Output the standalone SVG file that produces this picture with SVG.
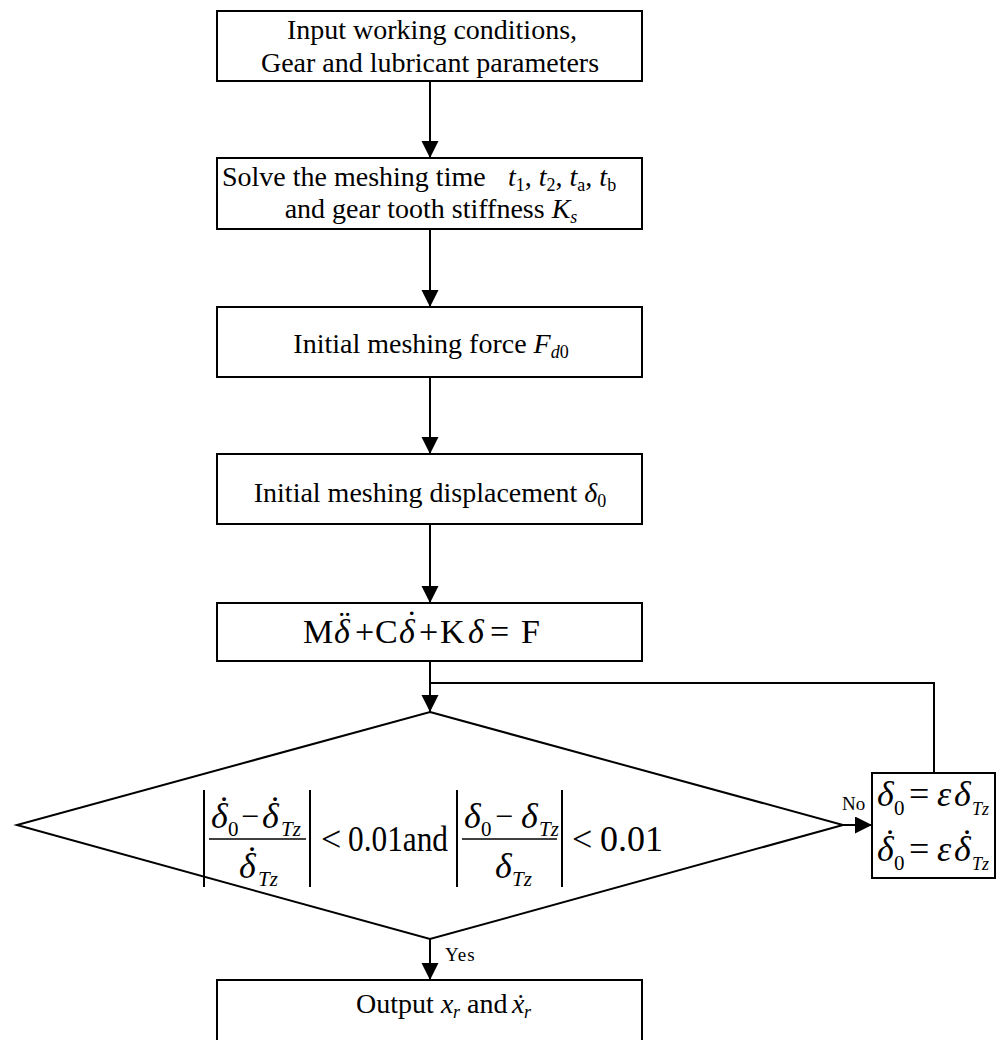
<svg xmlns="http://www.w3.org/2000/svg" width="996" height="1040" viewBox="0 0 996 1040">
<defs>
<marker id="arr" markerUnits="userSpaceOnUse" markerWidth="18" markerHeight="18" refX="17" refY="8.5" orient="auto">
<path d="M0,0 L17,8.5 L0,17 Z" fill="#000"/>
</marker>
<style>
.box{fill:#fff;stroke:#000;stroke-width:2}
.ln{fill:none;stroke:#000;stroke-width:2}
.t{font-family:"Times New Roman","Liberation Serif",serif;font-size:28px;fill:#000}
.ts{font-family:"Times New Roman","Liberation Serif",serif;font-size:18px;fill:#000}
.m{font-family:"Times New Roman","Liberation Serif",serif;font-size:36px;fill:#000}
.mn{font-family:"Times New Roman","Liberation Serif",serif;font-size:32px;fill:#000}
.e{font-family:"Times New Roman","Liberation Serif",serif;font-size:34px;fill:#000}
.i{font-style:italic}
.s{font-family:"Times New Roman","Liberation Serif",serif;font-size:21px;fill:#000}
.s2{font-family:"Times New Roman","Liberation Serif",serif;font-size:18px;fill:#000}
.lbl{font-family:"Times New Roman","Liberation Serif",serif;font-size:19px;fill:#000}
.bar{stroke:#000;stroke-width:2}
.fb{stroke:#000;stroke-width:1.5}
</style>
</defs>
<rect width="996" height="1040" fill="#fff"/>

<g id="connectors">
<line class="ln" x1="430" y1="81" x2="430" y2="158" marker-end="url(#arr)"/>
<line class="ln" x1="430" y1="229" x2="430" y2="307" marker-end="url(#arr)"/>
<line class="ln" x1="430" y1="377" x2="430" y2="454" marker-end="url(#arr)"/>
<line class="ln" x1="430" y1="524" x2="430" y2="603" marker-end="url(#arr)"/>
<line class="ln" x1="430" y1="661" x2="430" y2="712" marker-end="url(#arr)"/>
<polyline class="ln" points="934,773 934,683 430,683"/>
<line class="ln" x1="843" y1="825" x2="872" y2="825" marker-end="url(#arr)"/>
<line class="ln" x1="430" y1="939" x2="430" y2="980" marker-end="url(#arr)"/>
<text class="lbl" x="842" y="810">No</text>
<text class="lbl" x="445" y="961" letter-spacing="1">Yes</text>
</g>

<g id="node-input">
<rect class="box" x="217" y="11" width="425" height="70"/>
<text class="t" x="432" y="39" text-anchor="middle">Input working conditions,</text>
<text class="t" x="430" y="72" text-anchor="middle">Gear and lubricant parameters</text>
</g>

<g id="node-solve">
<rect class="box" x="217" y="158" width="425" height="71"/>
<text class="t" x="222" y="186">Solve the meshing time<tspan class="i" x="508">t</tspan><tspan font-size="18" dy="5">1</tspan><tspan dy="-5">, </tspan><tspan class="i">t</tspan><tspan font-size="18" dy="5">2</tspan><tspan dy="-5">, </tspan><tspan class="i">t</tspan><tspan font-size="18" dy="5">a</tspan><tspan dy="-5">, </tspan><tspan class="i">t</tspan><tspan font-size="18" dy="5">b</tspan></text>
<text class="t" x="431" y="218" text-anchor="middle">and gear tooth stiffness <tspan class="i">K</tspan><tspan class="i" font-size="18" dy="5">s</tspan></text>
</g>

<g id="node-force">
<rect class="box" x="217" y="307" width="425" height="70"/>
<text class="t" x="431" y="353" text-anchor="middle">Initial meshing force <tspan class="i">F</tspan><tspan font-size="18" dy="5"><tspan class="i">d</tspan>0</tspan></text>
</g>

<g id="node-displacement">
<rect class="box" x="217" y="454" width="425" height="70"/>
<text class="t" x="430" y="502" text-anchor="middle">Initial meshing displacement <tspan class="i">δ</tspan><tspan font-size="18" dy="5">0</tspan></text>
</g>

<g id="node-equation">
<rect class="box" x="217" y="603" width="425" height="58"/>
<text class="e" x="303" y="643">M</text>
<text class="e i" x="334" y="643">δ</text>
<text class="e" x="339" y="634">¨</text>
<text class="e" x="355" y="643">+</text>
<text class="e" x="375" y="643">C</text>
<text class="e i" x="399" y="643">δ</text>
<text class="e" x="406" y="634">˙</text>
<text class="e" x="419" y="643">+</text>
<text class="e" x="440" y="643">K</text>
<text class="e i" x="468" y="643">δ</text>
<text class="e" x="490" y="643">=</text>
<text class="e" x="521" y="643">F</text>
</g>

<g id="node-decision">
<polygon class="box" points="430,712 843,825 430,939 17,825"/>
<line class="bar" x1="204" y1="790" x2="204" y2="887"/>
<line class="bar" x1="310" y1="790" x2="310" y2="887"/>
<line class="fb" x1="209" y1="839" x2="306" y2="839"/>
<text class="m i" x="211" y="828">δ</text>
<text class="m" x="218" y="821">˙</text>
<text class="s" x="228" y="836">0</text>
<text class="mn" x="241" y="827">−</text>
<text class="m i" x="262" y="828">δ</text>
<text class="m" x="269" y="821">˙</text>
<text class="s i" x="281" y="836">Tz</text>
<text class="m i" x="239" y="878">δ</text>
<text class="m" x="246" y="871">˙</text>
<text class="s i" x="258" y="886">Tz</text>
<text class="m" x="321" y="851">&lt;</text>
<text class="m" x="348" y="851" textLength="100" lengthAdjust="spacingAndGlyphs">0.01and</text>
<line class="bar" x1="457" y1="790" x2="457" y2="887"/>
<line class="bar" x1="562" y1="790" x2="562" y2="887"/>
<line class="fb" x1="462" y1="839" x2="557" y2="839"/>
<text class="m i" x="464" y="828">δ</text>
<text class="s" x="481" y="836">0</text>
<text class="mn" x="495" y="827">−</text>
<text class="m i" x="521" y="828">δ</text>
<text class="s i" x="539" y="836">Tz</text>
<text class="m i" x="495" y="878">δ</text>
<text class="s i" x="512" y="886">Tz</text>
<text class="m" x="572" y="851">&lt;</text>
<text class="m" x="600" y="851">0.01</text>
</g>

<g id="node-update">
<rect class="box" x="872" y="773" width="123" height="105"/>
<text class="m i" x="877" y="806">δ</text>
<text class="s" x="894" y="815">0</text>
<text class="m" x="909" y="806">=</text>
<text class="m i" x="937" y="806">ε</text>
<text class="m i" x="954" y="806">δ</text>
<text class="s2 i" x="972" y="815">Tz</text>
<text class="m i" x="877" y="861">δ</text>
<text class="m" x="884" y="854">˙</text>
<text class="s" x="894" y="870">0</text>
<text class="m" x="909" y="861">=</text>
<text class="m i" x="937" y="861">ε</text>
<text class="m i" x="954" y="861">δ</text>
<text class="m" x="961" y="854">˙</text>
<text class="s2 i" x="972" y="870">Tz</text>
</g>

<g id="node-output">
<rect class="box" x="217" y="980" width="425" height="70"/>
<text class="t" x="356" y="1013">Output</text>
<text class="t i" x="441" y="1013">x</text>
<text class="ts i" x="453" y="1018">r</text>
<text class="t" x="467" y="1013">and</text>
<text class="t i" x="512" y="1013">x</text>
<text class="t" x="516" y="1013">˙</text>
<text class="ts i" x="524" y="1018">r</text>
</g>
</svg>
